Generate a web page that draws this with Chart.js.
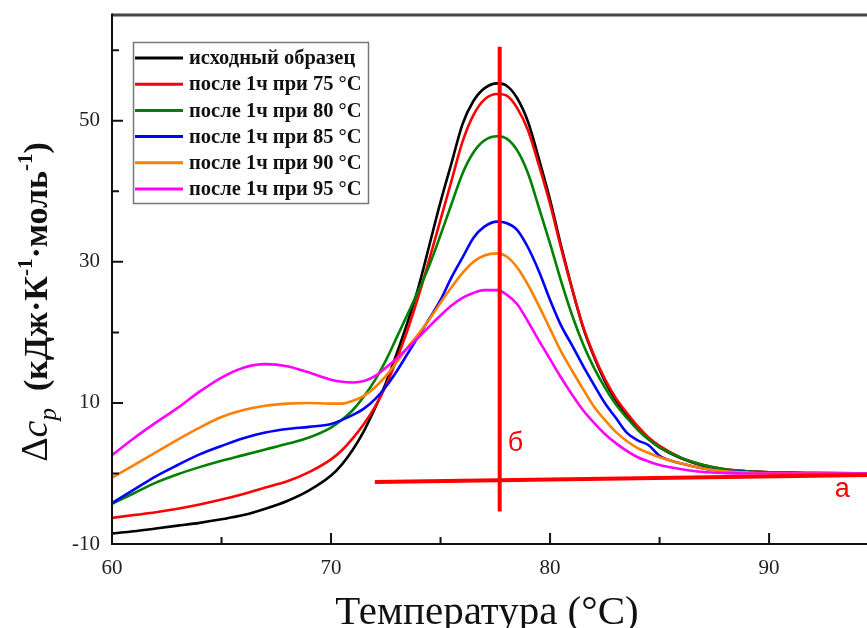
<!DOCTYPE html>
<html>
<head>
<meta charset="utf-8">
<title>ДСК</title>
<script src="https://cdn.jsdelivr.net/npm/chart.js@4.4.0/dist/chart.umd.min.js"></script>
<style>
html, body { margin: 0; padding: 0; background: #fff; overflow: hidden; }
#wrap { width: 867px; height: 628px; }
</style>
</head>
<body>
<div id="wrap"><canvas id="dsc" width="867" height="628"></canvas></div>
<script>
// temperature grid, °C
const temps = [60, 61, 62, 63, 64, 65, 66, 67, 68, 69, 70,
    70.5, 71, 71.5, 72, 72.5, 73, 73.5, 74, 74.5, 75, 75.5, 76, 76.5, 77,
    77.6,
    78, 78.5, 79, 79.5, 80, 80.5, 81, 81.5, 82, 82.5, 83, 83.5, 84, 84.5, 85,
    86, 87, 88, 89, 90, 92, 95];

// excess heat capacity, kJ/(K·mol)
const cp_initial = [-8.5, -8.2, -7.8, -7.4, -7.0, -6.5, -5.9, -5.0, -3.9, -2.4, -0.3,
    1.3, 3.4, 6.0, 9.2, 12.8, 17.0, 21.5, 26.5, 32.5, 38.5, 44.0, 49.5, 52.8, 54.6,
    55.3,
    55.0, 53.2, 49.8, 44.5, 38.8, 32.3, 26.3, 20.8, 16.6, 13.1, 10.4, 8.3, 6.4, 4.9, 3.7,
    2.1, 1.1, 0.55, 0.3, 0.15, 0.05, 0.0];
const cp_75 = [-6.3, -5.9, -5.5, -5.0, -4.4, -3.7, -2.9, -2.0, -1.1, 0.2, 2.0,
    3.3, 5.0, 7.0, 9.4, 12.4, 16.2, 20.4, 25.2, 30.5, 36.0, 41.5, 47.0, 50.8, 53.0,
    53.8,
    53.6, 51.8, 48.6, 43.6, 38.2, 32.0, 26.2, 20.9, 16.8, 13.4, 10.7, 8.6, 6.7, 5.1, 3.9,
    2.2, 1.2, 0.6, 0.3, 0.15, 0.05, 0.0];
const cp_80 = [-4.3, -2.8, -1.3, -0.1, 0.9, 1.8, 2.6, 3.4, 4.2, 5.1, 6.5,
    7.6, 9.0, 10.9, 13.2, 16.0, 19.3, 22.6, 26.0, 29.6, 33.8, 38.2, 42.5, 45.5, 47.2,
    47.8,
    47.5, 45.8, 42.5, 37.6, 32.6, 27.3, 22.5, 18.4, 15.0, 12.2, 9.8, 7.9, 6.2, 4.8, 3.7,
    2.2, 1.2, 0.6, 0.3, 0.15, 0.05, 0.0];
const cp_85 = [-4.2, -2.3, -0.4, 1.2, 2.7, 3.9, 5.0, 5.8, 6.3, 6.6, 7.0,
    7.6, 8.3, 9.2, 10.5, 12.3, 14.5, 17.0, 19.5, 22.0, 24.6, 27.8, 30.6, 33.4, 35.0,
    35.7,
    35.5, 34.5, 32.0, 28.6, 24.6, 21.0, 18.2, 15.3, 12.6, 10.0, 7.9, 5.8, 4.7, 4.0, 2.5,
    1.4, 0.7, 0.35, 0.2, 0.1, 0.03, 0.0];
const cp_90 = [-0.6, 1.2, 3.0, 4.8, 6.5, 8.0, 9.0, 9.6, 9.9, 10.0, 9.9,
    9.9, 10.3, 11.0, 12.2, 13.8, 15.8, 17.9, 19.8, 21.9, 24.2, 26.4, 28.4, 30.0, 30.9,
    31.2,
    30.8, 29.2, 26.7, 23.7, 20.5, 17.3, 14.6, 12.0, 9.5, 7.6, 5.9, 4.6, 3.6, 2.9, 2.3,
    1.4, 0.7, 0.3, 0.15, 0.05, 0.02, 0.0];
const cp_95 = [2.6, 5.0, 7.2, 9.3, 11.6, 13.6, 15.0, 15.5, 15.2, 14.3, 13.3,
    13.0, 12.9, 13.1, 13.8, 15.0, 16.3, 17.8, 19.3, 20.9, 22.4, 23.8, 24.9, 25.6, 26.0,
    26.0,
    25.4, 24.0, 21.5, 18.8, 16.2, 13.6, 11.2, 9.0, 7.2, 5.6, 4.3, 3.2, 2.3, 1.7, 1.2,
    0.6, 0.2, 0.05, 0.0, 0.0, 0.0, 0.0];

const series_names = ['исходный образец', 'после 1ч при 75 °C', 'после 1ч при 80 °C',
    'после 1ч при 85 °C', 'после 1ч при 90 °C', 'после 1ч при 95 °C'];
const series_values = [cp_initial, cp_75, cp_80, cp_85, cp_90, cp_95];
const series_colors = ['#000000', '#ff0000', '#008000', '#0000ff', '#ff8000', '#ff00ff'];

// baseline (a) and peak position (б)
const line_a = [[72, -1.2], [95, -0.2]];
const line_b = [[77.7, -5.4], [77.7, 60.5]];

const x_ticks = [60, 70, 80, 90];
const x_minor = [65, 75, 85, 95];
const y_ticks = [-10, 10, 30, 50];
const y_minor = [0, 20, 40, 60];

const serif = '"Liberation Serif", "Times New Roman", serif';
const sans = '"Liberation Sans", Arial, sans-serif';

function to_points(xs, ys)
{
    return xs.map((x, i) => ({x: x, y: ys[i]}));
}

let datasets = [];
for (let i = 0; i < series_values.length; i++)
{
    datasets.push({
        label: series_names[i],
        data: to_points(temps, series_values[i]),
        borderColor: series_colors[i],
        borderWidth: 2.6,
        pointRadius: 0,
        cubicInterpolationMode: 'monotone',
        order: series_values.length - i
    });
}
datasets.push({
    label: 'a',
    data: line_a.map(p => ({x: p[0], y: p[1]})),
    borderColor: '#ff0000',
    borderWidth: 4,
    pointRadius: 0,
    order: 0
});
datasets.push({
    label: 'б',
    data: line_b.map(p => ({x: p[0], y: p[1]})),
    borderColor: '#ff0000',
    borderWidth: 4,
    pointRadius: 0,
    order: 0
});

// axis lines and inward ticks
const frame_plugin = {
    id: 'frame',
    afterDatasetsDraw(chart)
    {
        const ctx = chart.ctx;
        const a = chart.chartArea;
        const xs = chart.scales.x, ys = chart.scales.y;
        ctx.save();
        ctx.strokeStyle = '#444';
        ctx.lineWidth = 3;
        ctx.beginPath();
        ctx.moveTo(a.left, a.top);
        ctx.lineTo(a.right, a.top);
        ctx.stroke();

        ctx.strokeStyle = '#111';
        ctx.lineWidth = 2;
        ctx.beginPath();
        ctx.moveTo(a.left, a.top - 1.5);
        ctx.lineTo(a.left, a.bottom);
        ctx.lineTo(a.right, a.bottom);
        ctx.stroke();

        ctx.beginPath();
        x_ticks.forEach(v => { let p = xs.getPixelForValue(v); ctx.moveTo(p, a.bottom); ctx.lineTo(p, a.bottom - 11); });
        x_minor.forEach(v => { let p = xs.getPixelForValue(v); ctx.moveTo(p, a.bottom); ctx.lineTo(p, a.bottom - 7); });
        y_ticks.forEach(v => { let p = ys.getPixelForValue(v); ctx.moveTo(a.left, p); ctx.lineTo(a.left + 11, p); });
        y_minor.forEach(v => { let p = ys.getPixelForValue(v); ctx.moveTo(a.left, p); ctx.lineTo(a.left + 7, p); });
        ctx.stroke();

        // labels of the two red lines
        ctx.fillStyle = '#ff0000';
        ctx.font = '27px ' + sans;
        ctx.textBaseline = 'alphabetic';
        ctx.fillText('б', xs.getPixelForValue(line_b[0][0]) + 8, ys.getPixelForValue(3.2));
        ctx.fillText('a', xs.getPixelForValue(93.0), ys.getPixelForValue(-3.4));
        ctx.restore();
    },
    afterDraw(chart)
    {
        const ctx = chart.ctx;
        ctx.save();

        // legend
        ctx.fillStyle = '#fff';
        ctx.fillRect(133, 42, 235, 161);
        ctx.strokeStyle = '#777';
        ctx.lineWidth = 1.5;
        ctx.strokeRect(133.5, 42.5, 235, 161);
        ctx.font = 'bold 20.5px ' + serif;
        ctx.textBaseline = 'middle';
        for (let i = 0; i < series_names.length; i++)
        {
            let y = 58 + i * 26.2;
            ctx.strokeStyle = series_colors[i];
            ctx.lineWidth = 3;
            ctx.beginPath();
            ctx.moveTo(135, y);
            ctx.lineTo(183, y);
            ctx.stroke();
            ctx.fillStyle = '#111';
            ctx.fillText(series_names[i], 189, y + 1);
        }

        // x title
        ctx.fillStyle = '#111';
        ctx.textBaseline = 'alphabetic';
        ctx.textAlign = 'center';
        ctx.font = '41px ' + serif;
        ctx.fillText('Температура (°C)', 487, 624);

        // y title with subscript and superscripts
        ctx.textAlign = 'left';
        const parts = [
            {t: 'Δ', f: '38px ' + serif, dy: 0},
            {t: 'c', f: 'italic 38px ' + serif, dy: 0},
            {t: 'p', f: 'italic 25px ' + serif, dy: 9},
            {t: '  (кДж·К', f: 'bold 34px ' + serif, dy: 0},
            {t: '-1', f: 'bold 21px ' + serif, dy: -15},
            {t: '·моль', f: 'bold 34px ' + serif, dy: 0},
            {t: '-1', f: 'bold 21px ' + serif, dy: -15},
            {t: ')', f: 'bold 34px ' + serif, dy: 0}
        ];
        let total = 0;
        parts.forEach(p => { ctx.font = p.f; p.w = ctx.measureText(p.t).width; total += p.w; });
        ctx.translate(47, 302);
        ctx.rotate(-Math.PI / 2);
        let x = -total / 2;
        parts.forEach(p => { ctx.font = p.f; ctx.fillText(p.t, x, p.dy); x += p.w; });
        ctx.restore();
    }
};

new Chart(document.getElementById('dsc'), {
    type: 'line',
    data: { datasets: datasets },
    plugins: [frame_plugin],
    options: {
        responsive: false,
        animation: false,
        layout: { padding: { top: 15, right: 0, left: 0, bottom: 0 } },
        plugins: { legend: { display: false }, tooltip: { enabled: false } },
        scales: {
            x: {
                type: 'linear',
                min: 60,
                max: 94.47,
                afterBuildTicks: s => { s.ticks = x_ticks.map(v => ({value: v})); },
                afterFit: s => { s.height = 84; s.paddingLeft = 0; s.paddingRight = 0; },
                grid: { display: false, drawTicks: false },
                border: { display: false },
                ticks: { font: { family: serif, size: 21 }, color: '#222', padding: 12, maxRotation: 0 }
            },
            y: {
                type: 'linear',
                min: -10,
                max: 65,
                afterBuildTicks: s => { s.ticks = y_ticks.map(v => ({value: v})); },
                afterFit: s => { s.width = 112; s.paddingTop = 0; s.paddingBottom = 0; },
                grid: { display: false, drawTicks: false },
                border: { display: false },
                ticks: { font: { family: serif, size: 21 }, color: '#222', padding: 12 }
            }
        }
    }
});
</script>
</body>
</html>
